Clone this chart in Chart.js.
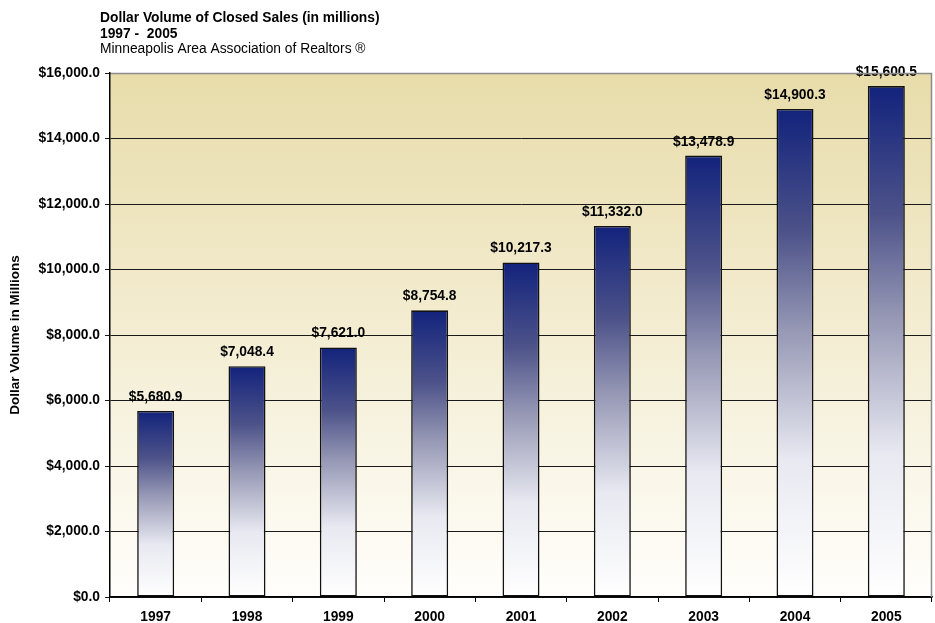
<!DOCTYPE html>
<html>
<head>
<meta charset="utf-8">
<script src="https://cdn.jsdelivr.net/npm/chart.js@4.4.0/dist/chart.umd.min.js"></script>
<style>
  html, body { margin: 0; padding: 0; background: #fff; }
  #wrap { position: relative; width: 935px; height: 623px; }
</style>
</head>
<body>
<div id="wrap"><canvas id="salesChart" width="935" height="623"></canvas></div>
<script>
const years = ['1997', '1998', '1999', '2000', '2001', '2002', '2003', '2004', '2005'];
const dollarVolume = [5680.9, 7048.4, 7621.0, 8754.8, 10217.3, 11332.0, 13478.9, 14900.3, 15600.5];
const titleLines = ['Dollar Volume of Closed Sales (in millions)', '1997 -  2005'];
const sourceLine = 'Minneapolis Area Association of Realtors \u00ae';
const yAxisTitle = 'Dollar Volume in Millions';

const FONT = 'Arial, "Liberation Sans", sans-serif';

function money(v) {
    return '$' + v.toLocaleString('en-US', { minimumFractionDigits: 1, maximumFractionDigits: 1 });
}

// plot background + gray frame, header text, value labels
const decorPlugin = {
    id: 'decor',
    beforeDraw(chart) {
        const { ctx, chartArea: a } = chart;
        const g = ctx.createLinearGradient(0, a.top, 0, a.bottom);
        g.addColorStop(0, '#e8dcaa');
        g.addColorStop(1, '#fffefb');
        ctx.save();
        ctx.fillStyle = g;
        ctx.fillRect(a.left, a.top, a.right - a.left, a.bottom - a.top);

        ctx.fillStyle = '#000';
        ctx.textAlign = 'left';
        ctx.textBaseline = 'alphabetic';
        ctx.font = 'bold 13.8px ' + FONT;
        ctx.fillText(titleLines[0], 100, 22);
        ctx.fillText(titleLines[1], 100, 38);
        ctx.font = '13.8px ' + FONT;
        ctx.fillText(sourceLine, 100, 53);
        ctx.restore();
    },
    afterDraw(chart) {
        const { ctx, chartArea: a } = chart;
        ctx.save();
        ctx.strokeStyle = '#8c8c8c';
        ctx.lineWidth = 1.5;
        ctx.beginPath();
        ctx.moveTo(a.left + 1, a.top + 0.5);
        ctx.lineTo(a.right - 0.5, a.top + 0.5);
        ctx.lineTo(a.right - 0.5, a.bottom);
        ctx.stroke();
        ctx.restore();
    },
    afterDatasetsDraw(chart) {
        const { ctx } = chart;
        const meta = chart.getDatasetMeta(0);
        ctx.save();
        ctx.fillStyle = '#000';
        ctx.font = 'bold 13.8px ' + FONT;
        ctx.textAlign = 'center';
        ctx.textBaseline = 'alphabetic';
        meta.data.forEach((bar, i) => {
            ctx.fillText(money(dollarVolume[i]), bar.x, bar.y - 10);
        });
        ctx.restore();
    }
};

const ctx = document.getElementById('salesChart').getContext('2d');
new Chart(ctx, {
    type: 'bar',
    data: {
        labels: years,
        datasets: [{
            data: dollarVolume,
            backgroundColor: (c) => {
                const chart = c.chart;
                const y = chart.scales.y;
                if (!y || c.raw === undefined) return '#1b2a7a';
                const top = y.getPixelForValue(c.raw);
                const base = y.getPixelForValue(0);
                if (!isFinite(top) || !isFinite(base)) return '#1b2a7a';
                const g = chart.ctx.createLinearGradient(0, top, 0, base);
                g.addColorStop(0, '#13237c');
                g.addColorStop(0.25, '#4c5289');
                g.addColorStop(0.45, '#9597b4');
                g.addColorStop(0.72, '#e8e9f1');
                g.addColorStop(1, '#ffffff');
                return g;
            },
            borderColor: '#111',
            borderWidth: 1.6,
            borderSkipped: false,
            barPercentage: 0.405,
            categoryPercentage: 1
        }]
    },
    options: {
        responsive: false,
        animation: false,
        layout: { padding: { top: 73, right: 3, left: 0, bottom: 0 } },
        plugins: {
            legend: { display: false },
            tooltip: { enabled: false },
            title: { display: false }
        },
        scales: {
            x: {
                afterFit: (s) => { s.height = 26; },
                grid: {
                    offset: true,
                    drawOnChartArea: false,
                    drawTicks: true,
                    tickLength: 5,
                    color: '#000'
                },
                border: { color: '#000', width: 1.5 },
                ticks: {
                    color: '#000',
                    padding: 7,
                    font: { family: FONT, size: 13.8, weight: 'bold' }
                }
            },
            y: {
                min: 0,
                max: 16000,
                afterFit: (s) => { s.width = 110; },
                grid: {
                    color: '#1a1a1a',
                    lineWidth: 1,
                    drawTicks: true,
                    tickLength: 5
                },
                border: { color: '#000', width: 1.5 },
                ticks: {
                    stepSize: 2000,
                    color: '#000',
                    padding: 5,
                    font: { family: FONT, size: 13.8, weight: 'bold' },
                    callback: (v) => money(v)
                },
                title: {
                    display: true,
                    text: yAxisTitle,
                    color: '#000',
                    padding: { top: 7, bottom: 0 },
                    font: { family: FONT, size: 13.5, weight: 'bold' }
                }
            }
        }
    },
    plugins: [decorPlugin]
});
</script>
</body>
</html>
